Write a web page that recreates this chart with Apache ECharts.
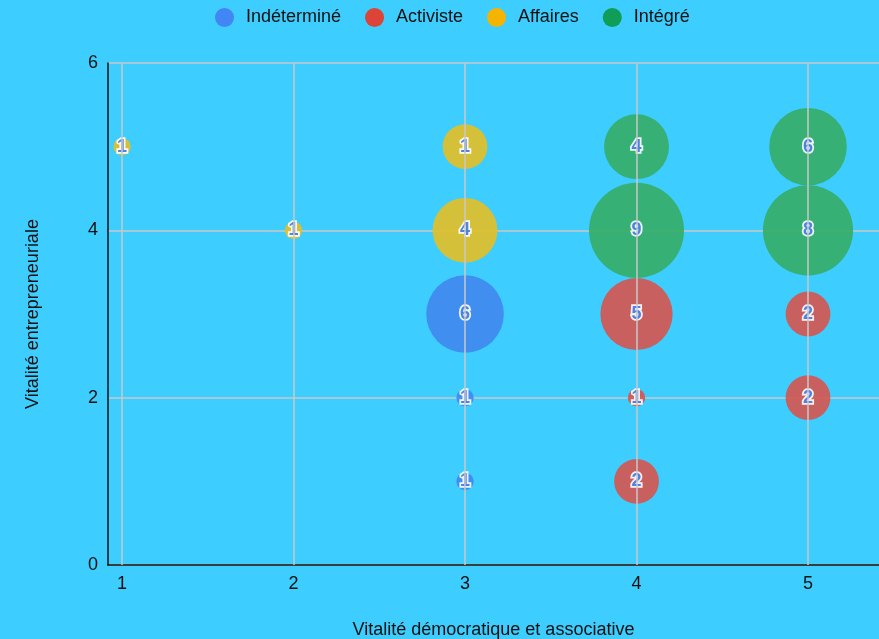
<!DOCTYPE html>
<html>
<head>
<meta charset="utf-8">
<script src="https://cdn.jsdelivr.net/npm/echarts@6/dist/echarts.min.js"></script>
<style>
html,body{margin:0;padding:0;background:#3dcdfe;}
#chart{width:879px;height:639px;}
</style>
</head>
<body>
<div id="chart"></div>
<script>
// ---- data ----
const seriesNames = ['Indéterminé', 'Activiste', 'Affaires', 'Intégré'];

const indetX = [3, 3, 3];
const indetY = [3, 2, 1];
const indetLabel = ['6', '1', '1'];
const indetSize = [6, 0.3, 0.3];

const activX = [4, 4, 4, 5, 5];
const activY = [3, 2, 1, 3, 2];
const activLabel = ['5', '1', '2', '2', '2'];
const activSize = [5.2, 0.3, 2, 2, 2];

const affX = [1, 2, 3, 3];
const affY = [5, 4, 5, 4];
const affLabel = ['1', '1', '1', '4'];
const affSize = [0.3, 0.3, 2, 4.2];

const integX = [4, 4, 5, 5];
const integY = [5, 4, 5, 4];
const integLabel = ['4', '9', '6', '8'];
const integSize = [4.2, 9, 6, 8.1];

const xTicks = [1, 2, 3, 4, 5];
const yTicks = [0, 2, 4, 6];

// ---- build ----
const colors = ['#4088ee', '#d7544e', '#e5bf24', '#35ad65'];
const legendColors = ['#4285f4', '#db4437', '#f4b400', '#0f9d58'];

function build(xs, ys, labels, sizes) {
  return xs.map((x, i) => [x, ys[i], sizes[i], labels[i]]);
}
const groups = [
  build(indetX, indetY, indetLabel, indetSize),
  build(activX, activY, activLabel, activSize),
  build(affX, affY, affLabel, affSize),
  build(integX, integY, integLabel, integSize)
];

const chart = echarts.init(document.getElementById('chart'));
const font = '"Liberation Sans", Arial, Helvetica, sans-serif';

const option = {
  backgroundColor: '#3dcdfe',
  animation: false,
  textStyle: { fontFamily: font },
  legend: {
    left: 210,
    top: 3,
    icon: 'circle',
    itemWidth: 19,
    itemHeight: 19,
    itemGap: 24,
    textStyle: { fontSize: 18, color: '#111', fontFamily: font, padding: [0, 0, 0, 7] },
    data: seriesNames.map((n, i) => ({ name: n, itemStyle: { color: legendColors[i], opacity: 1 } }))
  },
  grid: { left: 108, top: 63, right: 0, bottom: 74, containLabel: false, outerBoundsMode: 'none' },
  xAxis: {
    type: 'value',
    min: 0.918,
    max: 5.414,
    name: 'Vitalité démocratique et associative',
    nameLocation: 'middle',
    nameGap: 56,
    nameTextStyle: { fontSize: 18, color: '#111', fontFamily: font },
    axisLine: { show: true, onZero: false, lineStyle: { color: '#111', width: 1.5 } },
    axisTick: { show: false, customValues: xTicks },
    axisLabel: { customValues: xTicks, fontSize: 18, color: '#111', margin: 10, fontFamily: font },
    splitLine: { show: false }
  },
  yAxis: {
    type: 'value',
    min: 0,
    max: 6,
    interval: 2,
    name: 'Vitalité entrepreneuriale',
    nameLocation: 'middle',
    nameGap: 66,
    nameTextStyle: { fontSize: 18, color: '#111', fontFamily: font },
    axisLine: { show: true, lineStyle: { color: '#111', width: 1.5 } },
    axisTick: { show: false },
    axisLabel: { fontSize: 18, color: '#111', margin: 10, fontFamily: font },
    splitLine: { show: true, lineStyle: { color: '#c8c8c8', width: 1.5 } }
  },
  series: [
    {
      name: '__grid',
      type: 'scatter',
      data: [],
      silent: true,
      z: 0,
      markLine: {
        silent: true,
        symbol: 'none',
        label: { show: false },
        lineStyle: { color: '#c8c8c8', width: 1.5, type: 'solid' },
        data: xTicks.map(v => ({ xAxis: v }))
      }
    }
  ].concat(groups.map((g, i) => ({
    name: seriesNames[i],
    type: 'scatter',
    data: g,
    z: 2,
    symbolSize: d => 31.67 * Math.sqrt(d[2]),
    itemStyle: { color: colors[i], opacity: 0.9 },
    label: {
      show: true,
      position: 'inside',
      formatter: p => p.data[3],
      fontSize: 18,
      fontWeight: 'bold',
      color: '#3a76e0',
      textBorderColor: '#ffffff',
      textBorderWidth: 3.5,
      fontFamily: font
    }
  })))
};
chart.setOption(option);
</script>
</body>
</html>
